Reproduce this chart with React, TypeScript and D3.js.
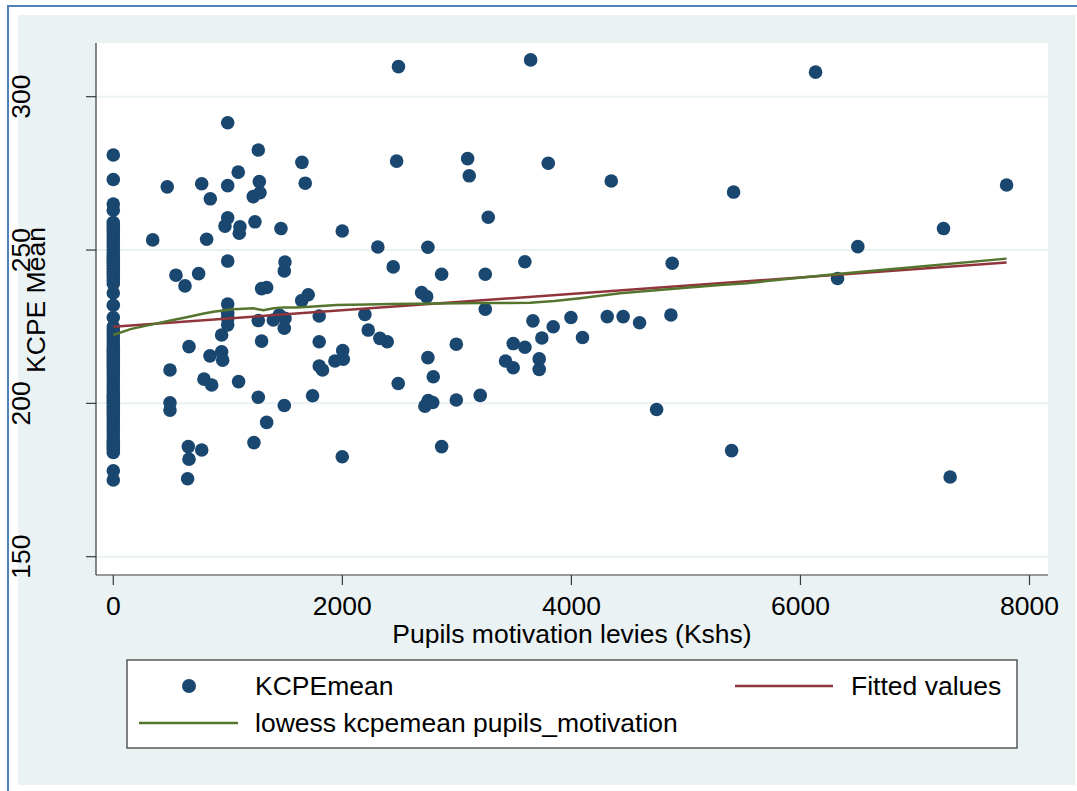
import React from 'react';
import * as d3 from 'd3';

// ---------- data ----------
const xTicks = [0, 2000, 4000, 6000, 8000];
const yTicks = [150, 200, 250, 300];

// schools with zero levies
const zeroLevyScores = [281, 273, 265, 263, 259, 258, 257, 256, 255, 254, 253, 252, 251, 250, 249, 248, 247, 246, 245, 244, 243, 242, 241, 240, 239, 236, 232, 228, 225, 224, 223, 222, 221, 220, 219, 218, 217, 216, 215, 214, 213, 212, 211, 210, 209, 208, 207, 206, 205, 204, 203, 202, 201, 200, 199, 198, 197, 196, 195, 194, 193, 192, 191, 190, 189, 188, 187, 186, 185, 184, 178, 175];

const levies = [344, 471, 495, 495, 495, 547, 626, 649, 655, 661, 661, 745, 772, 772, 792, 815, 844, 847, 859, 946, 946, 955, 975, 999, 999, 999, 999, 999, 999, 999, 999, 1094, 1091, 1100, 1106, 1222, 1228, 1237, 1266, 1266, 1266, 1275, 1281, 1295, 1295, 1339, 1339, 1397, 1449, 1464, 1493, 1493, 1493, 1499, 1499, 1645, 1647, 1676, 1702, 1740, 1798, 1798, 1798, 1827, 1935, 1999, 1999, 2003, 2008, 2197, 2226, 2310, 2328, 2392, 2444, 2474, 2490, 2488, 2692, 2736, 2721, 2747, 2747, 2750, 2789, 2794, 2867, 2867, 2995, 2995, 3094, 3108, 3204, 3248, 3248, 3274, 3425, 3492, 3492, 3594, 3594, 3644, 3664, 3719, 3719, 3742, 3798, 3841, 3996, 4097, 4313, 4348, 4452, 4595, 4744, 4869, 4880, 5399, 5416, 6132, 6324, 6501, 7249, 7307, 7800];
const kcpeScores = [253.3, 270.6, 210.9, 200.2, 197.8, 241.8, 238.3, 175.4, 185.9, 181.8, 218.5, 242.3, 271.6, 184.8, 207.9, 253.5, 215.5, 266.7, 206.0, 222.3, 216.8, 214.1, 257.8, 291.5, 271.0, 260.5, 246.4, 232.4, 229.4, 227.7, 225.6, 207.1, 275.4, 255.5, 257.6, 267.4, 187.2, 259.2, 282.6, 227.0, 202.0, 272.3, 268.7, 237.4, 220.3, 237.8, 193.8, 227.2, 228.8, 257.0, 243.2, 224.5, 199.3, 246.1, 227.7, 233.5, 278.6, 271.8, 235.4, 202.5, 228.5, 220.1, 212.2, 210.9, 213.8, 256.2, 182.6, 217.2, 214.4, 229.0, 223.9, 251.0, 221.2, 220.1, 244.5, 279.0, 309.8, 206.5, 236.1, 234.8, 199.1, 250.9, 214.9, 200.9, 200.3, 208.7, 242.1, 185.9, 219.3, 201.1, 279.8, 274.2, 202.6, 242.1, 230.7, 260.7, 213.8, 219.5, 211.6, 246.2, 218.3, 312.0, 226.9, 214.5, 211.1, 221.3, 278.3, 225.0, 228.0, 221.5, 228.3, 272.5, 228.3, 226.3, 198.0, 228.8, 245.7, 184.6, 268.9, 308.0, 240.7, 251.1, 257.0, 176.0, 271.2];

const fittedX = [0, 7800];
const fittedY = [225.0, 245.9];

const lowessX = [0, 150, 320, 500, 641, 780, 873, 1048, 1223, 1310, 1400, 1485, 1600, 1718, 1850, 1951, 2213, 2416, 2853, 3200, 3639, 3850, 4076, 4425, 4949, 5298, 5532, 6318, 7000, 7800];
const lowessY = [222.3, 224.2, 225.6, 227.0, 228.1, 229.2, 229.9, 230.7, 231.0, 230.4, 231.0, 231.3, 231.3, 231.5, 231.8, 232.1, 232.2, 232.4, 232.6, 232.7, 232.8, 233.4, 234.3, 235.9, 237.5, 238.6, 239.2, 242.2, 244.5, 247.2];

const legendItems = ['KCPEmean', 'Fitted values', 'lowess kcpemean pupils_motivation'];

// ---------- style ----------
const W = 1077;
const H = 791;
const FONT = '"Liberation Sans", Arial, sans-serif';
const BG = '#eaf2f3';
const NAVY = '#1a476f';
const RED = '#90353b';
const GREEN = '#55752f';

export default function App() {
  const plot = { left: 96, right: 1048, top: 43, bottom: 575 };
  const x = d3.scaleLinear().domain([0, 8000]).range([113.3, 1029.5]);
  const y = d3.scaleLinear().domain([150, 300]).range([556.7, 96.7]);

  const points = [
    ...zeroLevyScores.map((v) => ({ lx: 0, v })),
    ...levies.map((l, i) => ({ lx: l, v: kcpeScores[i] })),
  ];

  const line = d3
    .line<[number, number]>()
    .x((d) => x(d[0]))
    .y((d) => y(d[1]));

  const fitted = line(fittedX.map((v, i) => [v, fittedY[i]]) as [number, number][]) || '';
  const lowess = line(lowessX.map((v, i) => [v, lowessY[i]]) as [number, number][]) || '';

  const fs = 26.5;

  return (
    <svg
      width={W}
      height={H}
      style={{ position: 'absolute', left: 0, top: 0, background: '#fff' }}
      fontFamily={FONT}
    >
      {/* outer frame */}
      <rect x={8} y={6} width={W} height={H} fill="#fff" stroke="#4f81bd" strokeWidth={2} />
      <rect x={18} y={15} width={1057} height={770} fill={BG} />
      {/* plot region */}
      <rect x={plot.left} y={plot.top} width={plot.right - plot.left} height={plot.bottom - plot.top} fill="#fff" />
      {/* grid */}
      {yTicks.map((t) => (
        <line key={'g' + t} x1={plot.left} x2={plot.right} y1={y(t)} y2={y(t)} stroke={BG} strokeWidth={2} />
      ))}
      {/* axes */}
      <line x1={plot.left} x2={plot.left} y1={plot.top} y2={plot.bottom} stroke="#3a3a3a" strokeWidth={1.2} />
      <line x1={plot.left} x2={plot.right} y1={plot.bottom} y2={plot.bottom} stroke="#3a3a3a" strokeWidth={1.2} />
      {yTicks.map((t) => (
        <g key={'yt' + t}>
          <line x1={plot.left - 10} x2={plot.left} y1={y(t)} y2={y(t)} stroke="#3a3a3a" strokeWidth={1.2} />
          <text transform={`translate(30,${y(t)}) rotate(-90)`} textAnchor="middle" fontSize={fs} fill="#000">
            {t}
          </text>
        </g>
      ))}
      {xTicks.map((t) => (
        <g key={'xt' + t}>
          <line x1={x(t)} x2={x(t)} y1={plot.bottom} y2={plot.bottom + 10} stroke="#3a3a3a" strokeWidth={1.2} />
          <text x={x(t)} y={615} textAnchor="middle" fontSize={fs} fill="#000">
            {t}
          </text>
        </g>
      ))}
      <text transform={`translate(45,${(plot.top + plot.bottom) / 2 - 9}) rotate(-90)`} textAnchor="middle" fontSize={fs} fill="#000">
        KCPE Mean
      </text>
      <text x={(plot.left + plot.right) / 2} y={643} textAnchor="middle" fontSize={fs} fill="#000">
        Pupils motivation levies (Kshs)
      </text>

      {/* points */}
      {points.map((p, i) => (
        <circle key={i} cx={x(p.lx)} cy={y(p.v)} r={6.8} fill={NAVY} />
      ))}
      {/* lines */}
      <path d={fitted} fill="none" stroke={RED} strokeWidth={2.5} />
      <path d={lowess} fill="none" stroke={GREEN} strokeWidth={2.5} />

      {/* legend */}
      <rect x={127} y={660} width={890} height={88} fill="#fff" stroke="#333" strokeWidth={1.2} />
      <circle cx={189} cy={686} r={7} fill={NAVY} />
      <text x={255} y={695} fontSize={fs} fill="#000">{legendItems[0]}</text>
      <line x1={735} x2={833} y1={686} y2={686} stroke={RED} strokeWidth={2.5} />
      <text x={851} y={695} fontSize={fs} fill="#000">{legendItems[1]}</text>
      <line x1={139} x2={238} y1={723} y2={723} stroke={GREEN} strokeWidth={2.5} />
      <text x={255} y={732} fontSize={fs} fill="#000">{legendItems[2]}</text>
    </svg>
  );
}
